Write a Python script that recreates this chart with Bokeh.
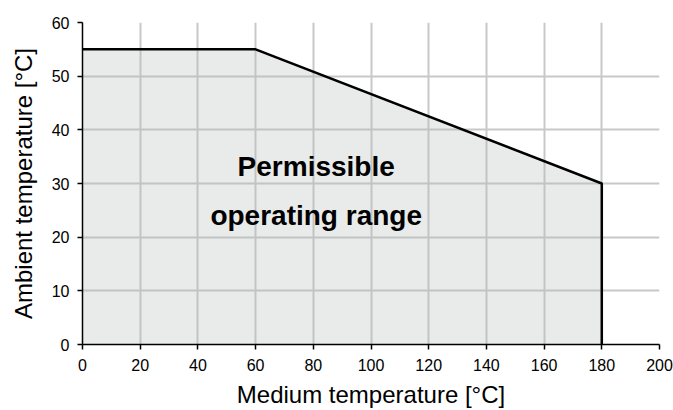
from bokeh.plotting import figure
from bokeh.models import FixedTicker, Label
from bokeh.embed import file_html
from bokeh.resources import INLINE

# Data
medium_temp = [0, 60, 180, 180]
ambient_temp = [55, 55, 30, 0]
x_ticks = [0, 20, 40, 60, 80, 100, 120, 140, 160, 180, 200]
y_ticks = [0, 10, 20, 30, 40, 50, 60]
region_lines = ["Permissible", "operating range"]

FONT = "Liberation Sans"

p = figure(width=673, height=410, output_backend="svg", toolbar_location=None,
           x_range=(0, 200), y_range=(0, 60),
           min_border_left=82, min_border_right=14, min_border_top=22, min_border_bottom=66)
p.outline_line_color = None
p.background_fill_color = "white"
p.border_fill_color = "white"

# filled region
poly_x = [0] + medium_temp
poly_y = [0] + ambient_temp
p.patch(poly_x, poly_y, fill_color=(180, 188, 184), fill_alpha=0.3, line_color=None)
p.line(medium_temp, ambient_temp, line_color="black", line_width=2.5)

for ax in (p.xaxis[0], p.yaxis[0]):
    ax.axis_line_color = "black"
    ax.axis_line_width = 1.5
    ax.major_tick_line_color = "black"
    ax.major_tick_line_width = 1.5
    ax.major_tick_out = 5
    ax.major_tick_in = 0
    ax.minor_tick_line_color = None
    ax.major_label_text_font = FONT
    ax.major_label_text_font_size = "16px"
    ax.major_label_text_color = "black"
    ax.axis_label_text_font = FONT
    ax.axis_label_text_font_size = "24px"
    ax.axis_label_text_font_style = "normal"
    ax.axis_label_text_color = "black"

p.xaxis[0].ticker = FixedTicker(ticks=x_ticks)
p.yaxis[0].ticker = FixedTicker(ticks=y_ticks)
p.xaxis[0].axis_label = "Medium temperature [°C]"
p.yaxis[0].axis_label = "Ambient temperature [°C]"
p.xaxis[0].major_label_standoff = 9
p.xaxis[0].axis_label_standoff = 7
p.yaxis[0].major_label_standoff = 8
p.yaxis[0].axis_label_standoff = 12

for g in (p.xgrid[0], p.ygrid[0]):
    g.grid_line_color = "#c8c8c8"
    g.grid_line_width = 2
p.xgrid[0].ticker = FixedTicker(ticks=x_ticks)
p.ygrid[0].ticker = FixedTicker(ticks=y_ticks)

p.add_layout(Label(x=81, y=33.2, text=region_lines[0], text_align="center",
                   text_baseline="middle", text_font=FONT, text_font_style="bold",
                   text_font_size="28px", text_color="black"))
p.add_layout(Label(x=81, y=24.0, text=region_lines[1], text_align="center",
                   text_baseline="middle", text_font=FONT, text_font_style="bold",
                   text_font_size="28px", text_color="black"))

open("out.html", "w").write(file_html(p, INLINE))
